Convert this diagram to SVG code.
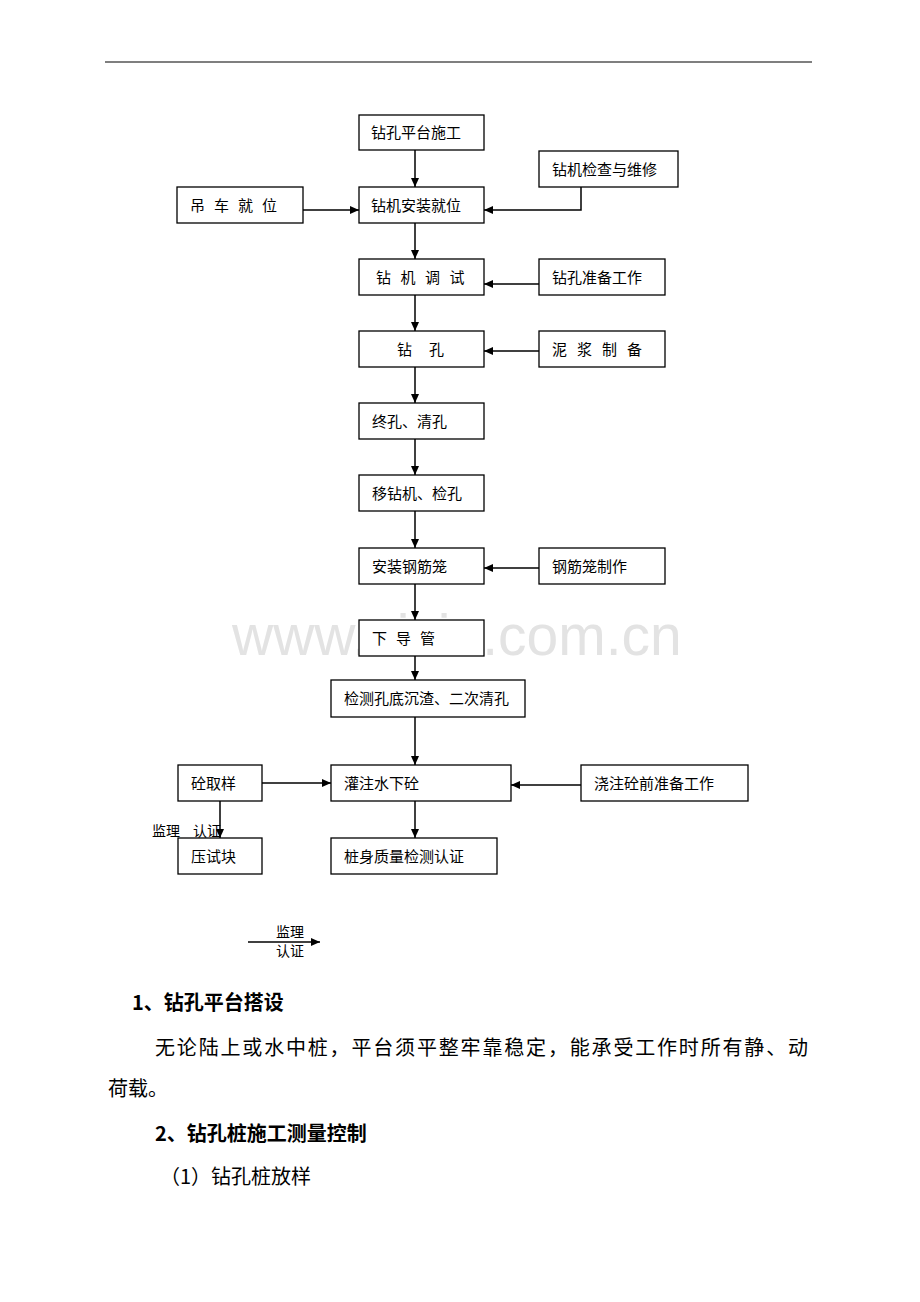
<svg xmlns="http://www.w3.org/2000/svg" width="920" height="1302" viewBox="0 0 920 1302">
<defs>
<marker id="ah" markerWidth="10" markerHeight="10" refX="9" refY="5" orient="auto" markerUnits="userSpaceOnUse">
<path d="M0,1 L9,5 L0,9 Z" fill="#000"/>
</marker>
<style>
.box{fill:#fff;stroke:#000;stroke-width:1.3}
.t{font-family:"Noto Sans CJK SC","Liberation Sans",sans-serif;font-size:15px;fill:#000}
.c{stroke:#000;stroke-width:1.5;fill:none;marker-end:url(#ah)}
.p{font-family:"Noto Sans CJK SC","Liberation Serif",serif;font-size:20px;fill:#000}
.h{font-weight:bold}
.s{font-family:"Noto Sans CJK SC","Liberation Sans",sans-serif;font-size:14px;fill:#000}
</style>
</defs>
<rect width="920" height="1302" fill="#fff"/>
<line x1="105" y1="62" x2="812" y2="62" stroke="#555" stroke-width="1.5"/>
<text x="232" y="655" font-family="Liberation Sans,Arial,sans-serif" font-size="57" fill="#e3e3e3">www.zixin.com.cn</text>

<g id="connectors">
<line class="c" x1="415" y1="150" x2="415" y2="187"/>
<line class="c" x1="415" y1="223" x2="415" y2="259"/>
<line class="c" x1="415" y1="295" x2="415" y2="331"/>
<line class="c" x1="415" y1="367" x2="415" y2="403"/>
<line class="c" x1="415" y1="439" x2="415" y2="475"/>
<line class="c" x1="415" y1="511" x2="415" y2="548"/>
<line class="c" x1="415" y1="584" x2="415" y2="620"/>
<line class="c" x1="415" y1="656" x2="415" y2="680"/>
<line class="c" x1="415" y1="717" x2="415" y2="765"/>
<line class="c" x1="415" y1="801" x2="415" y2="838"/>
<polyline class="c" points="581,187 581,210 484,210"/>
<line class="c" x1="303" y1="210" x2="359" y2="210"/>
<line class="c" x1="539" y1="284" x2="484" y2="284"/>
<line class="c" x1="539" y1="351" x2="484" y2="351"/>
<line class="c" x1="539" y1="568" x2="484" y2="568"/>
<line class="c" x1="581" y1="785" x2="511" y2="785"/>
<line class="c" x1="262" y1="783" x2="331" y2="783"/>
<line class="c" x1="220" y1="801" x2="220" y2="838"/>
<line class="c" x1="248" y1="942" x2="320" y2="942"/>
</g>

<g id="n1"><rect class="box" x="359" y="115" width="125" height="35"/><text class="t" x="371" y="138">钻孔平台施工</text></g>
<g id="n2"><rect class="box" x="539" y="151" width="139" height="36"/><text class="t" x="552" y="175">钻机检查与维修</text></g>
<g id="n3"><rect class="box" x="177" y="187" width="126" height="36"/><text class="t" x="190" y="211" letter-spacing="9">吊车就位</text></g>
<g id="n4"><rect class="box" x="359" y="187" width="125" height="36"/><text class="t" x="371" y="211">钻机安装就位</text></g>
<g id="n5"><rect class="box" x="359" y="259" width="125" height="36"/><text class="t" x="376" y="283" letter-spacing="9.5">钻机调试</text></g>
<g id="n6"><rect class="box" x="539" y="259" width="126" height="36"/><text class="t" x="552" y="283">钻孔准备工作</text></g>
<g id="n7"><rect class="box" x="359" y="331" width="125" height="36"/><text class="t" x="397" y="355" letter-spacing="17">钻孔</text></g>
<g id="n8"><rect class="box" x="539" y="331" width="126" height="36"/><text class="t" x="552" y="355" letter-spacing="10">泥浆制备</text></g>
<g id="n9"><rect class="box" x="359" y="403" width="125" height="36"/><text class="t" x="372" y="427">终孔、清孔</text></g>
<g id="n10"><rect class="box" x="359" y="475" width="125" height="36"/><text class="t" x="372" y="499">移钻机、检孔</text></g>
<g id="n11"><rect class="box" x="359" y="548" width="125" height="36"/><text class="t" x="372" y="572">安装钢筋笼</text></g>
<g id="n12"><rect class="box" x="539" y="548" width="126" height="36"/><text class="t" x="552" y="572">钢筋笼制作</text></g>
<g id="n13"><rect class="box" x="359" y="620" width="125" height="36"/><text class="t" x="372" y="644" letter-spacing="9">下导管</text></g>
<g id="n14"><rect class="box" x="331" y="680" width="194" height="37"/><text class="t" x="344" y="704">检测孔底沉渣、二次清孔</text></g>
<g id="n15"><rect class="box" x="178" y="765" width="84" height="36"/><text class="t" x="191" y="789">砼取样</text></g>
<g id="n16"><rect class="box" x="331" y="765" width="180" height="36"/><text class="t" x="344" y="789">灌注水下砼</text></g>
<g id="n17"><rect class="box" x="581" y="765" width="167" height="36"/><text class="t" x="594" y="789">浇注砼前准备工作</text></g>
<g id="n18"><rect class="box" x="178" y="838" width="84" height="36"/><text class="t" x="191" y="862">压试块</text></g>
<g id="n19"><rect class="box" x="331" y="838" width="166" height="36"/><text class="t" x="344" y="862">桩身质量检测认证</text></g>

<text class="s" x="152" y="836">监理</text>
<text class="s" x="193" y="836">认证</text>
<text class="s" x="276" y="937">监理</text>
<text class="s" x="276" y="956">认证</text>

<text class="p h" x="132" y="1010">1、钻孔平台搭设</text>
<text class="p" x="155" y="1055" textLength="653" lengthAdjust="spacing">无论陆上或水中桩，平台须平整牢靠稳定，能承受工作时所有静、动</text>
<text class="p" x="108" y="1096">荷载。</text>
<text class="p h" x="155" y="1141">2、钻孔桩施工测量控制</text>
<text class="p" x="160" y="1184">（1）钻孔桩放样</text>
</svg>
